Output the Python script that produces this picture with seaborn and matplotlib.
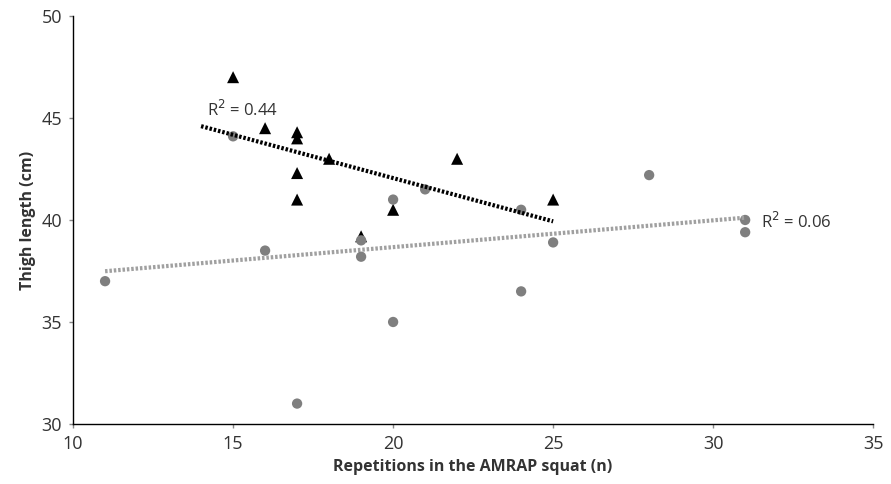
import numpy as np
import pandas as pd
import seaborn as sns
from matplotlib import pyplot as plt

# black triangles
tri_reps = [15, 16, 17, 17, 17, 17, 18, 19, 20, 22, 25]
tri_thigh = [47.0, 44.5, 44.3, 44.0, 42.3, 41.0, 43.0, 39.2, 40.5, 43.0, 41.0]

# grey circles
dot_reps = [11, 15, 16, 17, 19, 19, 20, 20, 21, 24, 24, 25, 28, 31, 31]
dot_thigh = [37.0, 44.1, 38.5, 31.0, 39.0, 38.2, 41.0, 35.0, 41.5, 40.5, 36.5, 38.9, 42.2, 40.0, 39.4]

tri_r2 = "R$^2$ = 0.44"
dot_r2 = "R$^2$ = 0.06"

sns.set_style("white")
plt.rcParams["font.family"] = ["Open Sans", "DejaVu Sans"]

fig = plt.figure(figsize=(8.91, 4.84), dpi=100)
ax = fig.add_axes([0.082, 0.124, 0.898, 0.843])

tri = pd.DataFrame({"reps": tri_reps, "thigh": tri_thigh})
dot = pd.DataFrame({"reps": dot_reps, "thigh": dot_thigh})

sns.scatterplot(data=tri, x="reps", y="thigh", marker="^", s=75, color="black",
                edgecolor="none", ax=ax, zorder=2)
sns.scatterplot(data=dot, x="reps", y="thigh", marker="o", s=55, color="#7f7f7f",
                edgecolor="none", ax=ax, zorder=3)

# linear trend lines
def trend(df, x0, x1):
    k, b = np.polyfit(df["reps"], df["thigh"], 1)
    xs = np.array([x0, x1])
    return xs, k * xs + b

xs, ys = trend(tri, 14, 25)
sns.lineplot(x=xs, y=ys, color="black", linewidth=3, ax=ax, zorder=4)
ax.lines[-1].set_linestyle((0, (0.6, 0.45)))
xs, ys = trend(dot, 11, 31)
sns.lineplot(x=xs, y=ys, color="#a0a0a0", linewidth=3, ax=ax, zorder=4)
ax.lines[-1].set_linestyle((0, (0.6, 0.45)))

ax.text(14.2, 45.4, tri_r2, fontsize=12, color="#333333", va="center")
ax.text(31.5, 39.9, dot_r2, fontsize=12, color="#333333", va="center")

ax.set_xlim(10, 35)
ax.set_ylim(30, 50)
ax.set_xticks(range(10, 36, 5))
ax.set_yticks(range(30, 51, 5))
ax.set_xlabel("Repetitions in the AMRAP squat (n)", fontsize=11.5, fontweight="bold", color="#333333")
ax.set_ylabel("Thigh length (cm)", fontsize=11.5, fontweight="bold", color="#333333")
ax.tick_params(axis="both", labelsize=13, colors="#333333", direction="out",
               length=3, width=1, color="#888888", pad=5)
ax.tick_params(axis="both", which="both", left=True, bottom=True)
sns.despine(ax=ax)
for side in ["left", "bottom"]:
    ax.spines[side].set_color("black")
    ax.spines[side].set_linewidth(1)

plt.savefig("out.png", dpi=100)
